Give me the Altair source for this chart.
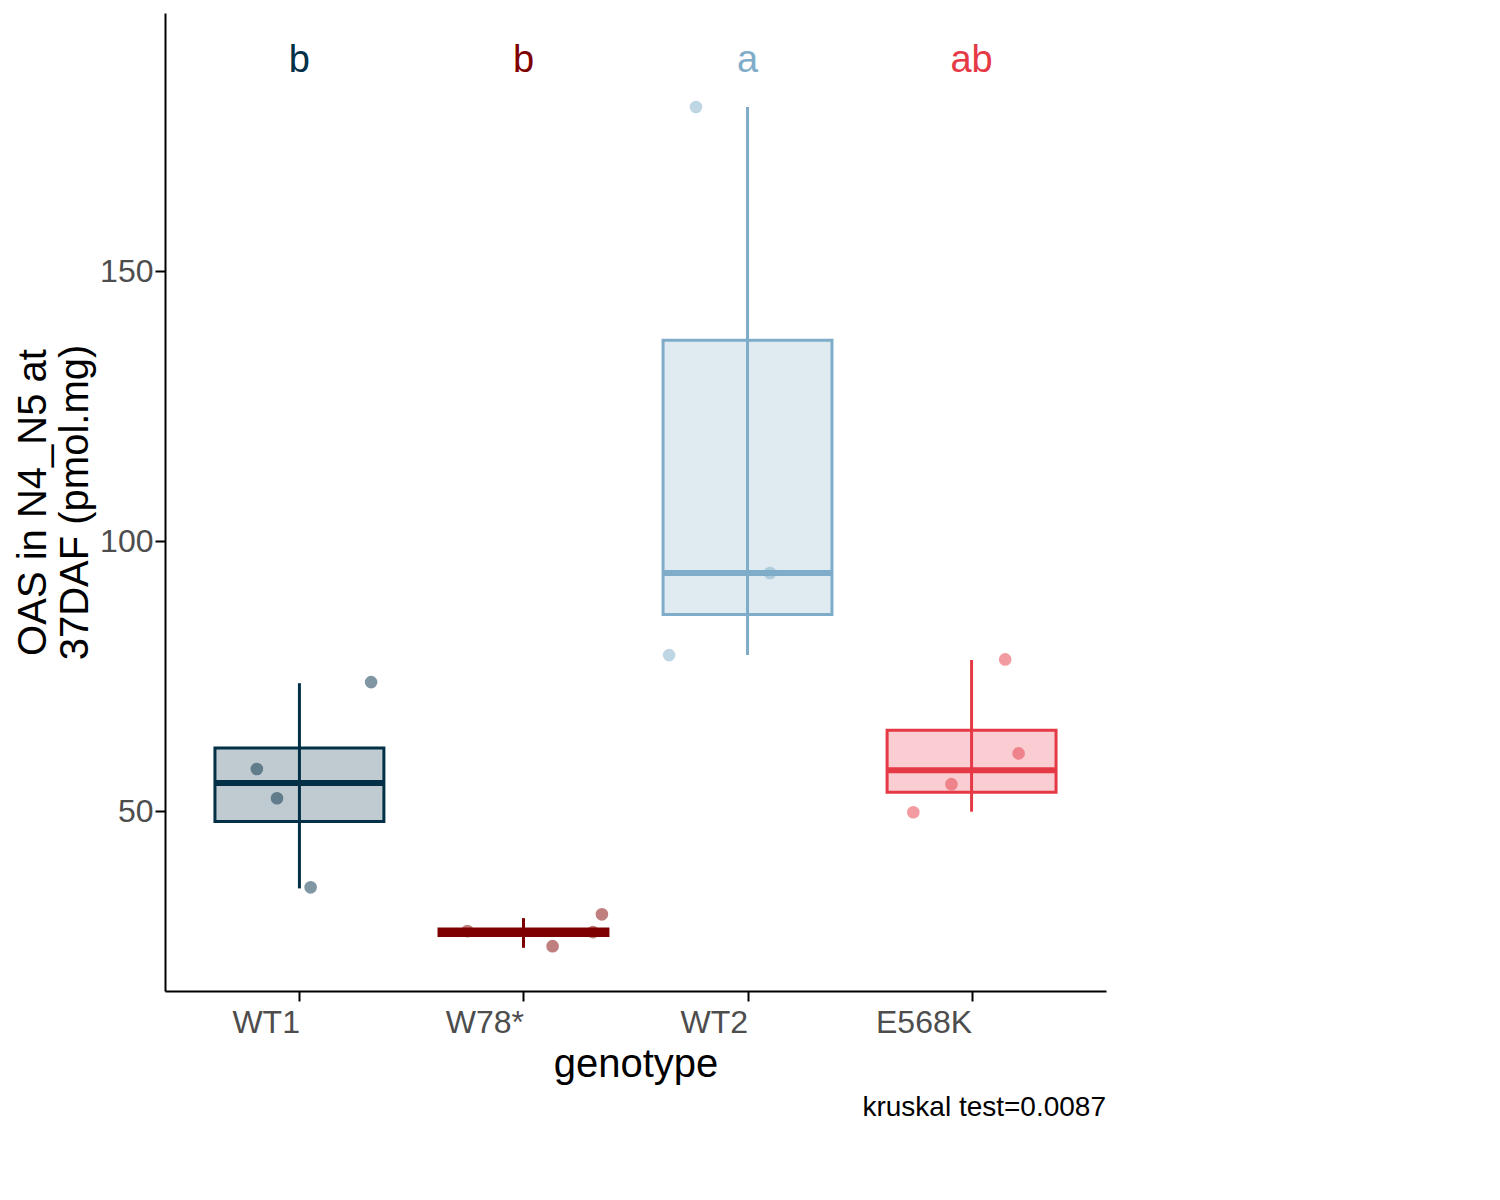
import altair as alt
import pandas as pd

genotypes = ["WT1", "W78*", "WT2", "E568K"]
colors = ["#023047", "#7f0000", "#7fadc9", "#e63946"]
letters = ["b", "b", "a", "ab"]

q1 = [48.1, 27.0, 86.4, 53.5]
median = [55.2, 27.5, 94.1, 57.6]
q3 = [61.7, 28.2, 137.2, 65.0]
low = [35.7, 24.7, 78.9, 49.9]
high = [73.7, 30.2, 180.4, 78.0]

pt_geno = ["WT1"] * 4 + ["W78*"] * 4 + ["WT2"] * 3 + ["E568K"] * 4
pt_value = [57.8, 52.4, 35.9, 73.9, 27.8, 25.0, 27.6, 30.9,
            180.4, 94.1, 78.9, 49.8, 55.0, 60.7, 78.1]
pt_jitter = [-0.19, -0.10, 0.05, 0.32, -0.25, 0.13, 0.31, 0.35,
             -0.23, 0.10, -0.35, -0.26, -0.09, 0.21, 0.15]

box = pd.DataFrame({"genotype": genotypes, "pos": [1, 2, 3, 4], "q1": q1,
                    "median": median, "q3": q3, "low": low, "high": high,
                    "letter": letters})
box["left"] = box["pos"] - 0.377
box["right"] = box["pos"] + 0.377
pts = pd.DataFrame({"genotype": pt_geno, "value": pt_value})
pts["x"] = pts["genotype"].map({g: i + 1 for i, g in enumerate(genotypes)}) + pt_jitter

color = alt.Scale(domain=genotypes, range=colors)
xscale = alt.Scale(domain=[0.4, 4.6], nice=False, zero=False)
yscale = alt.Scale(domain=[16.7, 197.8], nice=False, zero=False)

xaxis = alt.Axis(title="genotype", values=[1, 2, 3, 4], grid=False,
                 labelExpr="['', 'WT1', 'W78*', 'WT2', 'E568K'][datum.value]",
                 labelAlign="right", labelFontSize=32, titleFontSize=40,
                 titleFontWeight="normal", labelColor="#4d4d4d", tickSize=10,
                 tickWidth=2, domainWidth=2, domainColor="black", tickColor="black",
                 labelPadding=6, titlePadding=6)
yaxis = alt.Axis(title=["OAS in N4_N5 at", "37DAF (pmol.mg)"], values=[50, 100, 150],
                 grid=False, labelFontSize=32, titleFontSize=40,
                 titleFontWeight="normal", labelColor="#4d4d4d", tickSize=10,
                 tickWidth=2, domainWidth=2, domainColor="black", tickColor="black")

base = alt.Chart(box)
whisker = base.mark_rule(strokeWidth=3).encode(
    x=alt.X("pos:Q", scale=xscale, axis=xaxis),
    y=alt.Y("low:Q", scale=yscale, axis=yaxis),
    y2="high:Q",
    color=alt.Color("genotype:N", scale=color, legend=None),
)
rect = base.mark_rect(strokeWidth=3, fillOpacity=0.25).encode(
    x="left:Q", x2="right:Q", y="q1:Q", y2="q3:Q",
    fill=alt.Fill("genotype:N", scale=color, sort=genotypes,
                  legend=alt.Legend(title="Genotype", symbolType="square",
                                    symbolSize=900, symbolStrokeWidth=3,
                                    labelFontSize=32,
                                    titleFontSize=36, titleFontWeight="normal",
                                    rowPadding=20, titlePadding=20,
                                    labelOffset=20)),
    stroke=alt.Stroke("genotype:N", scale=color, sort=genotypes),
)
med = base.mark_rule(strokeWidth=6).encode(
    x="left:Q", x2="right:Q", y="median:Q",
    color=alt.Color("genotype:N", scale=color, legend=None),
)
letter = base.mark_text(fontSize=38, baseline="middle").encode(
    x="pos:Q", y=alt.datum(189),
    color=alt.Color("genotype:N", scale=color, legend=None), text="letter:N",
)
points = alt.Chart(pts).mark_circle(size=160, opacity=0.5).encode(
    x="x:Q", y="value:Q",
    color=alt.Color("genotype:N", scale=color, legend=None),
)

chart = (whisker + rect + med + points + letter).properties(
    width=941, height=978,
    title=alt.Title("kruskal test=0.0087", orient="bottom", anchor="end",
                    fontSize=28, fontWeight="normal", offset=10),
).configure_view(stroke=None).configure_legend(orient="right", offset=40,
    labelFont="Arial", titleFont="Arial").configure_axis(
    labelFont="Arial", titleFont="Arial").configure_title(font="Arial").configure_text(font="Arial")

chart.save("out.html", embed_options={"renderer": "svg", "actions": False})
